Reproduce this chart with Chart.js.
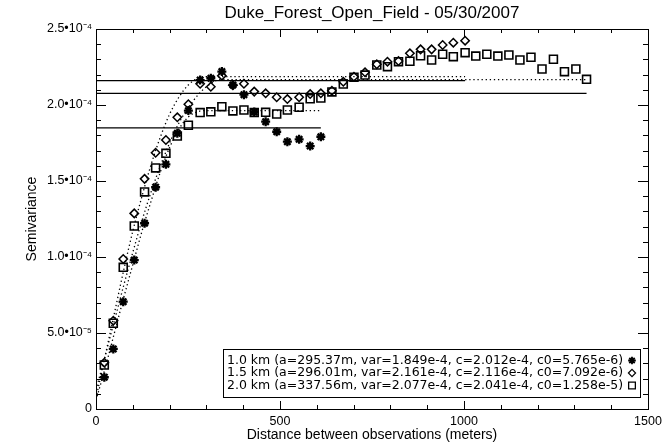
<!DOCTYPE html>
<html>
<head>
<meta charset="utf-8">
<script src="https://cdn.jsdelivr.net/npm/chart.js@4/dist/chart.umd.min.js"></script>
<style>
  html, body { margin: 0; padding: 0; background: #fff; }
  canvas { display: block; }
</style>
</head>
<body>
<canvas id="c" width="667" height="444"></canvas>
<script>
// ---------------- data ----------------
const chartTitle = 'Duke_Forest_Open_Field - 05/30/2007';
const xAxisTitle = 'Distance between observations (meters)';
const yAxisTitle = 'Semivariance';

const xTickValues = [0, 500, 1000, 1500];
const xTickLabels = ['0', '500', '1000', '1500'];
const yTickValues = [0, 0.5e-4, 1.0e-4, 1.5e-4, 2.0e-4, 2.5e-4];
const yTickLabels = ['0', '5.0\u202210\u207B\u2075', '1.0\u202210\u207B\u2074', '1.5\u202210\u207B\u2074', '2.0\u202210\u207B\u2074', '2.5\u202210\u207B\u2074'];

// lag distances (m)
const lagDistances = [22.6, 47, 74, 104, 132, 162, 190, 221, 251, 283, 312, 342, 372, 402, 430,
  461, 491, 520, 552, 582, 611, 641, 672, 701, 731, 763, 792, 822, 853, 882, 912, 942, 971,
  1003, 1032, 1062, 1092, 1122, 1152, 1182, 1212, 1243, 1273, 1304, 1333];

// empirical semivariance, 1.0 km (asterisks)
const semi10km = [0.209e-4, 0.395e-4, 0.706e-4, 0.980e-4, 1.222e-4, 1.459e-4, 1.610e-4, 1.814e-4,
  1.963e-4, 2.164e-4, 2.176e-4, 2.220e-4, 2.132e-4, 2.068e-4, 1.954e-4, 1.890e-4, 1.824e-4,
  1.759e-4, 1.774e-4, 1.730e-4, 1.791e-4];
// empirical semivariance, 1.5 km (diamonds)
const semi15km = [0.305e-4, 0.581e-4, 0.987e-4, 1.287e-4, 1.514e-4, 1.686e-4, 1.770e-4, 1.919e-4,
  2.005e-4, 2.140e-4, 2.120e-4, 2.193e-4, 2.130e-4, 2.140e-4, 2.088e-4, 2.077e-4, 2.051e-4,
  2.039e-4, 2.051e-4, 2.072e-4, 2.077e-4, 2.094e-4, 2.153e-4, 2.186e-4, 2.215e-4, 2.268e-4,
  2.285e-4, 2.289e-4, 2.340e-4, 2.366e-4, 2.366e-4, 2.395e-4, 2.410e-4, 2.423e-4];
// empirical semivariance, 2.0 km (squares)
const semi20km = [0.289e-4, 0.564e-4, 0.932e-4, 1.204e-4, 1.428e-4, 1.586e-4, 1.682e-4, 1.796e-4,
  1.867e-4, 1.950e-4, 1.955e-4, 1.989e-4, 1.961e-4, 1.967e-4, 1.951e-4, 1.952e-4, 1.941e-4,
  1.967e-4, 1.985e-4, 2.041e-4, 2.046e-4, 2.086e-4, 2.138e-4, 2.182e-4, 2.197e-4, 2.263e-4,
  2.252e-4, 2.285e-4, 2.288e-4, 2.324e-4, 2.296e-4, 2.334e-4, 2.318e-4, 2.344e-4, 2.322e-4,
  2.334e-4, 2.322e-4, 2.329e-4, 2.296e-4, 2.314e-4, 2.237e-4, 2.301e-4, 2.219e-4, 2.237e-4,
  2.169e-4];

// fitted model curves (dotted)
const model10Dist = [0, 25, 50, 75, 100, 125, 150, 175, 200, 225, 250, 275, 295, 611];
const model10Val = [0.058e-4, 0.27e-4, 0.50e-4, 0.73e-4, 0.95e-4, 1.17e-4, 1.37e-4, 1.56e-4,
  1.72e-4, 1.84e-4, 1.92e-4, 1.955e-4, 1.963e-4, 1.963e-4];
const model15Dist = [0, 25, 50, 75, 100, 125, 150, 175, 200, 225, 250, 275, 296, 1003];
const model15Val = [0.071e-4, 0.35e-4, 0.63e-4, 0.91e-4, 1.17e-4, 1.40e-4, 1.61e-4, 1.79e-4,
  1.94e-4, 2.05e-4, 2.13e-4, 2.175e-4, 2.187e-4, 2.187e-4];
const model20Dist = [0, 25, 50, 75, 100, 125, 150, 175, 200, 225, 250, 275, 300, 338, 1333];
const model20Val = [0.126e-4, 0.35e-4, 0.58e-4, 0.81e-4, 1.03e-4, 1.24e-4, 1.43e-4, 1.60e-4,
  1.75e-4, 1.88e-4, 1.98e-4, 2.06e-4, 2.12e-4, 2.167e-4, 2.167e-4];

// sample variance lines (solid): value and extent
const varValues = [1.849e-4, 2.161e-4, 2.077e-4];
const varEnds = [611, 1003, 1333];

const legendLabels = [
  '1.0 km (a=295.37m, var=1.849e-4, c=2.012e-4, c0=5.765e-6)',
  '1.5 km (a=296.01m, var=2.161e-4, c=2.116e-4, c0=7.092e-6)',
  '2.0 km (a=337.56m, var=2.077e-4, c=2.041e-4, c0=1.258e-5)'
];

// ---------------- build datasets ----------------
const pts = (xs, ys) => ys.map((y, i) => ({ x: xs[i], y: y }));
const symbolStyles = [
  { pointStyle: 'star', radius: 4.5, borderWidth: 2.3 },
  { pointStyle: 'rectRot', radius: 4.2, borderWidth: 1.5 },
  { pointStyle: 'rect', radius: 5.6, borderWidth: 1.6 }
];

function scatterSet(label, data, st) {
  return {
    label, data, showLine: false,
    pointStyle: st.pointStyle, pointRadius: st.radius, pointBorderWidth: st.borderWidth,
    pointBorderColor: '#000', pointBackgroundColor: 'rgba(0,0,0,0)', borderColor: '#000',
    order: 1
  };
}
function modelSet(data) {
  return {
    data, showLine: true, pointRadius: 0, borderColor: '#000', borderWidth: 1.3,
    borderDash: [1.3, 2.8], cubicInterpolationMode: 'monotone', fill: false, order: 2
  };
}
function varSet(v, end) {
  return {
    data: [{ x: 0, y: v }, { x: end, y: v }], showLine: true, pointRadius: 0,
    borderColor: '#000', borderWidth: 1.3, fill: false, order: 3
  };
}

const datasets = [
  varSet(varValues[0], varEnds[0]),
  varSet(varValues[1], varEnds[1]),
  varSet(varValues[2], varEnds[2]),
  modelSet(pts(model10Dist, model10Val)),
  modelSet(pts(model15Dist, model15Val)),
  modelSet(pts(model20Dist, model20Val)),
  scatterSet(legendLabels[0], pts(lagDistances, semi10km), symbolStyles[0]),
  scatterSet(legendLabels[1], pts(lagDistances, semi15km), symbolStyles[1]),
  scatterSet(legendLabels[2], pts(lagDistances, semi20km), symbolStyles[2])
];

// ---------------- plugins: frame/ticks, title, legend ----------------
const FONT = '"Liberation Sans", Arial, Helvetica, sans-serif';

const framePlugin = {
  id: 'frame',
  afterDatasetsDraw(chart) {
    const { ctx, chartArea: a, scales: { x, y } } = chart;
    ctx.save();
    ctx.strokeStyle = '#000';
    ctx.lineWidth = 1;
    ctx.strokeRect(Math.round(a.left) + 0.5, Math.round(a.top) + 0.5,
      Math.round(a.right - a.left), Math.round(a.bottom - a.top));
    ctx.beginPath();
    for (let v = 0; v <= 1500; v += 100) {
      const px = Math.round(x.getPixelForValue(v)) + 0.5;
      const len = (v % 500 === 0) ? 8 : 4;
      ctx.moveTo(px, a.bottom); ctx.lineTo(px, a.bottom - len);
      ctx.moveTo(px, a.top); ctx.lineTo(px, a.top + len);
    }
    for (let i = 0; i <= 25; i++) {
      const py = Math.round(y.getPixelForValue(i * 1e-5)) + 0.5;
      const len = (i % 5 === 0) ? 10 : 5;
      ctx.moveTo(a.left, py); ctx.lineTo(a.left + len, py);
      ctx.moveTo(a.right, py); ctx.lineTo(a.right - len, py);
    }
    ctx.stroke();
    ctx.restore();
  }
};

const titlePlugin = {
  id: 'plotTitle',
  afterDraw(chart) {
    const { ctx, chartArea: a } = chart;
    ctx.save();
    ctx.fillStyle = '#000';
    ctx.font = '17px ' + FONT;
    ctx.textAlign = 'center';
    ctx.textBaseline = 'middle';
    ctx.fillText(chartTitle, (a.left + a.right) / 2, 13);
    ctx.restore();
  }
};

const legendPlugin = {
  id: 'boxLegend',
  afterDraw(chart) {
    const { ctx, chartArea: a } = chart;
    const boxL = 223.5, boxR = a.right - 7.5, boxT = 349.5, boxB = 397.5;
    ctx.save();
    ctx.fillStyle = '#fff';
    ctx.fillRect(boxL, boxT, boxR - boxL, boxB - boxT);
    ctx.strokeStyle = '#000';
    ctx.lineWidth = 1;
    ctx.strokeRect(boxL, boxT, boxR - boxL, boxB - boxT);
    const fam = '"DejaVu Sans", Verdana, sans-serif';
    ctx.font = '11px ' + fam;
    let maxW = 0;
    legendLabels.forEach(t => { maxW = Math.max(maxW, ctx.measureText(t).width); });
    const size = 11 * 396 / maxW;
    ctx.font = size.toFixed(2) + 'px ' + fam;
    ctx.textAlign = 'left';
    ctx.textBaseline = 'middle';
    const ys = [360.5, 373, 385.5];
    legendLabels.forEach((t, i) => {
      ctx.fillStyle = '#000';
      ctx.fillText(t, 227, ys[i]);
      const st = symbolStyles[i];
      ctx.strokeStyle = '#000';
      ctx.fillStyle = 'rgba(0,0,0,0)';
      ctx.lineWidth = st.borderWidth * 0.8;
      if (Chart.helpers && Chart.helpers.drawPoint) {
        Chart.helpers.drawPoint(ctx, { pointStyle: st.pointStyle, radius: st.radius * 0.85, borderWidth: st.borderWidth, rotation: 0 }, 632, ys[i]);
      }
    });
    ctx.restore();
  }
};

// ---------------- chart ----------------
const tickFont = { family: FONT, size: 12.5 };
const axisTitleFont = { family: FONT, size: 14 };

new Chart(document.getElementById('c'), {
  type: 'scatter',
  data: { datasets },
  options: {
    responsive: false,
    animation: false,
    devicePixelRatio: 1,
    layout: { padding: { top: 29, right: 19, left: 0, bottom: 0 } },
    plugins: {
      legend: { display: false },
      tooltip: { enabled: false },
      title: { display: false }
    },
    scales: {
      x: {
        type: 'linear', min: 0, max: 1500,
        afterBuildTicks: s => { s.ticks = xTickValues.map(v => ({ value: v })); },
        grid: { display: false, drawTicks: false },
        border: { display: false },
        ticks: {
          color: '#000', font: tickFont, padding: 5, autoSkip: false, maxRotation: 0,
          callback: (v, i) => xTickLabels[i]
        },
        title: { display: true, text: xAxisTitle, color: '#000', font: axisTitleFont, padding: { top: 0, bottom: 0 } },
        afterFit: s => { s.height = 35; }
      },
      y: {
        type: 'linear', min: 0, max: 2.5e-4,
        afterBuildTicks: s => { s.ticks = yTickValues.map(v => ({ value: v })); },
        grid: { display: false, drawTicks: false },
        border: { display: false },
        ticks: {
          color: '#000', font: tickFont, padding: 4, autoSkip: false,
          callback: (v, i) => yTickLabels[i]
        },
        title: { display: true, text: yAxisTitle, color: '#000', font: axisTitleFont, padding: { top: 24, bottom: 0 } },
        afterFit: s => { s.width = 96; }
      }
    }
  },
  plugins: [framePlugin, titlePlugin, legendPlugin]
});
</script>
</body>
</html>
